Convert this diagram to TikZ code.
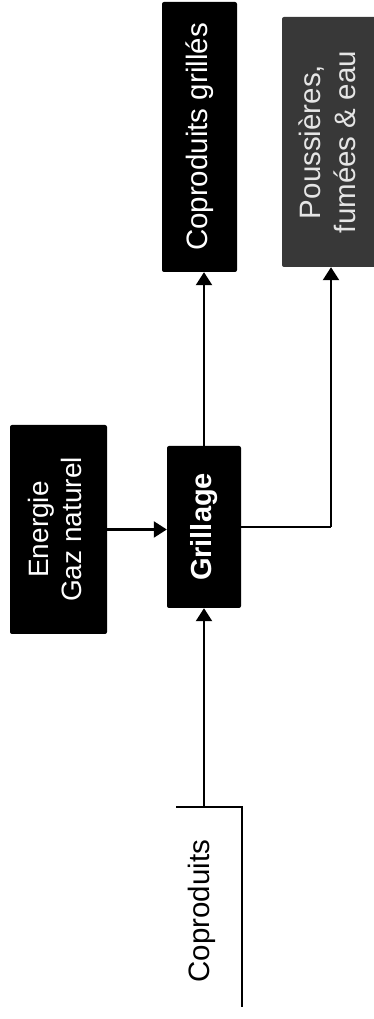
\documentclass[tikz,border=0pt]{standalone}
\usepackage{fontspec}
\setmainfont{Liberation Sans}
\usetikzlibrary{arrows.meta}

\begin{document}
\begin{tikzpicture}[x=1pt, y=1pt,
		bloc/.style={fill=black, text=white, inner sep=0pt, rounded corners=2pt},
		flux/.style={line width=2.2pt, -{Triangle[length=13pt, width=16pt]}},
		trait/.style={line width=2.2pt}]
	
	% Fix the page to the size of the reference
	\useasboundingbox (0,0) rectangle (373,1019);
	
	% Process and product boxes (text turned a quarter turn)
	\node[bloc, minimum width=75pt, minimum height=270pt] (grilles) at (199.5,882)
		{\rotatebox{90}{\fontsize{29.5}{35}\selectfont Coproduits grillés}};
	\node[bloc, fill=black!78, text=black!10, minimum width=98pt, minimum height=250pt] (pouss) at (331,877)
		{\rotatebox{90}{\fontsize{29.5}{35}\selectfont\begin{tabular}{@{}c@{}}Poussières,\\fumées \& eau\end{tabular}}};
	\node[bloc, minimum width=74pt, minimum height=162pt] (grillage) at (204,492)
		{\rotatebox{90}{\fontsize{29}{35}\selectfont\bfseries Grillage}};
	\node[bloc, minimum width=97pt, minimum height=209pt] (energie) at (58.5,489.5)
		{\rotatebox{90}{\fontsize{28}{33}\selectfont\begin{tabular}{@{}c@{}}Energie\\Gaz naturel\end{tabular}}};
	
	% Input bracket
	\node[inner sep=0pt] (copro) at (202,108)
		{\rotatebox{90}{\fontsize{29.5}{35}\selectfont Coproduits}};
	\coordinate (cg) at (176,212);
	\coordinate (cd) at (242,212);
	\coordinate (cb) at (242,12);
	\draw[trait] (cg) -- (cd) -- (cb);
	
	% Flows
	\draw[flux] (grillage.south |- cd) -- (grillage.south);
	\draw[flux] (energie.east) -- (energie.east -| grillage.west);
	\draw[flux] (grillage.north) -- (grillage.north |- grilles.south);
	\draw[trait] (grillage.east) -- (grillage.east -| pouss.south);
	\draw[flux] (grillage.east -| pouss.south) -- (pouss.south);
	
\end{tikzpicture}
\end{document}
